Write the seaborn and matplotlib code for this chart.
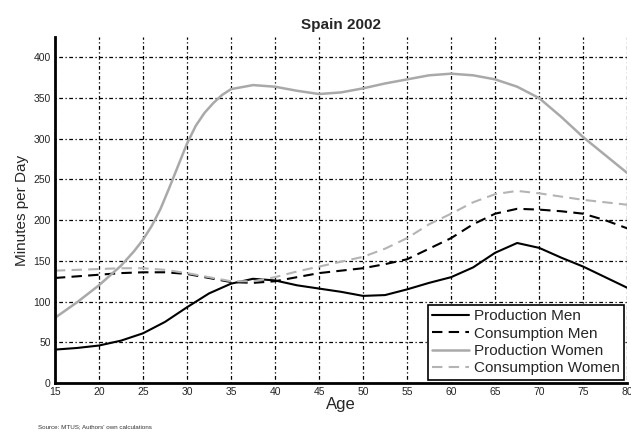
import matplotlib
matplotlib.use("Agg")
import matplotlib.pyplot as plt
import seaborn as sns
import pandas as pd

# ages (2.5 year steps)
ages = [15, 17.5, 20, 22.5, 25, 27.5, 30, 32.5, 35, 37.5, 40, 42.5, 45, 47.5,
        50, 52.5, 55, 57.5, 60, 62.5, 65, 67.5, 70, 72.5, 75, 77.5, 80]
# production women rises steeply, so it was read at finer steps there
ages_pw = [15, 17.5, 20, 22.5, 24, 25, 26, 27, 28, 29, 30, 31, 32, 33, 34, 35, 37.5, 40,
           42.5, 45, 47.5, 50, 52.5, 55, 57.5, 60, 62.5, 65, 67.5, 70, 72.5, 75, 77.5, 80]

production_men = [41, 43, 46, 52, 61, 75, 93, 110, 122, 128, 126, 120, 116, 112,
                  107, 108, 115, 123, 130, 142, 160, 172, 166, 154, 143, 130, 117]
consumption_men = [129, 131, 133, 135, 136, 136, 134, 129, 124, 123, 125, 130, 135, 138,
                   141, 146, 152, 165, 178, 195, 208, 214, 213, 211, 208, 200, 190]
production_women = [80, 99, 120, 144, 162, 176, 193, 214, 240, 267, 294, 316, 332, 344, 354,
                    361, 366, 364, 359, 355, 357, 362, 368, 373, 378, 380, 378, 373,
                    364, 350, 327, 302, 280, 258]
consumption_women = [138, 139, 140, 141, 141, 139, 135, 130, 125, 125, 130, 137, 143, 149,
                     155, 165, 178, 195, 208, 222, 232, 236, 233, 229, 225, 222, 219]

series = {
    "Production Men": (ages, production_men),
    "Consumption Men": (ages, consumption_men),
    "Production Women": (ages_pw, production_women),
    "Consumption Women": (ages, consumption_women),
}
styles = {
    "Production Men": dict(color="black", linestyle="-", linewidth=1.5),
    "Consumption Men": dict(color="black", linestyle=(0, (5, 3)), linewidth=1.5),
    "Production Women": dict(color="#a9a9a9", linestyle="-", linewidth=1.8),
    "Consumption Women": dict(color="#b4b4b4", linestyle=(0, (5, 3)), linewidth=1.5),
}

df = pd.DataFrame([
    {"Age": a, "Minutes": v, "Series": name}
    for name, (xs, vals) in series.items() for a, v in zip(xs, vals)
])

sns.set_style("white")
plt.rcParams["font.family"] = ["Liberation Sans", "DejaVu Sans"]

fig = plt.figure(figsize=(6.31, 4.36), dpi=100)
ax = fig.add_axes([0.087, 0.1216, 0.907, 0.7934])

for name in series:
    sub = df[df["Series"] == name]
    sns.lineplot(data=sub, x="Age", y="Minutes", ax=ax, label=name, **styles[name])

ax.set_xlim(15, 80)
ax.set_ylim(0, 425)
ax.set_xticks(range(15, 81, 5))
ax.set_yticks(range(0, 401, 50))
ax.tick_params(axis="both", labelsize=7.5, length=0, pad=3)
ax.grid(True, color="black", linestyle=(0, (1, 2, 3, 2)), linewidth=0.9)
ax.set_axisbelow(True)

for s in ["top", "right"]:
    ax.spines[s].set_visible(False)
for s in ["left", "bottom"]:
    ax.spines[s].set_color("black")
    ax.spines[s].set_linewidth(2)

ax.set_xlabel("Age", fontsize=12, labelpad=0)
ax.set_ylabel("Minutes per Day", fontsize=11, labelpad=3)
ax.set_title("Spain 2002", fontsize=11, fontweight="bold", pad=6)

leg = ax.legend(loc="lower right", fontsize=11, frameon=True, fancybox=False,
                borderpad=0.3, handlelength=2.4, handletextpad=0.3,
                labelspacing=0.22, borderaxespad=0.2)
leg.get_frame().set_edgecolor("black")
leg.get_frame().set_linewidth(1.2)
leg.get_frame().set_alpha(1)

fig.text(0.06, 0.018, "Source: MTUS; Authors' own calculations", fontsize=4.5, color="#333333")

fig.savefig("out.png", dpi=100)
